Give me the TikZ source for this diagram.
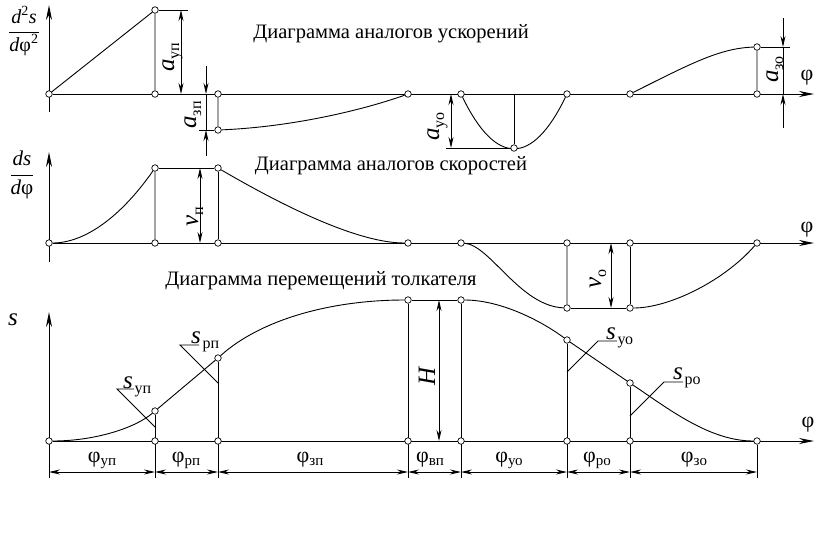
\documentclass[tikz,border=0pt]{standalone}
\usepackage{fontspec}
\setmainfont{Liberation Serif}
\usetikzlibrary{arrows.meta,backgrounds}
\newcommand\sbs[1]{\raisebox{-5pt}{\fontsize{16}{16}\selectfont #1}}
\newcommand\sbf[1]{\raisebox{-3pt}{\fontsize{15}{15}\selectfont #1}}
\newcommand\lett[1]{{\fontsize{25}{25}\selectfont\itshape #1}}
\begin{document}
\begin{tikzpicture}[x=1pt,y=-1pt,
  pt/.style={circle,draw,fill=white,inner sep=0pt,minimum size=6.5pt,line width=0.7pt},
  ln/.style={line width=0.9pt},
  axarr/.style={line width=1pt,-{Stealth[length=15pt,width=6pt]}},
  dim/.style={line width=0.9pt,{Stealth[length=11pt,width=5pt]}-{Stealth[length=11pt,width=5pt]}},
  dimend/.style={line width=0.9pt,-{Stealth[length=11pt,width=5pt]}},
  title/.style={font=\fontsize{20.5}{20.5}\selectfont,inner sep=0pt},
  lab/.style={inner sep=0pt},
  rlab/.style={inner sep=0pt,rotate=90,anchor=base west},
  flab/.style={inner sep=0pt,font=\fontsize{22}{22}\selectfont},
]
\useasboundingbox (0,0) rectangle (819,542);
% ---------- acceleration diagram points
\node[pt] (A0) at (49,94) {};
\node[pt] (A1) at (155,10) {};
\node[pt] (A1b) at (155,94) {};
\node[pt] (A2) at (218,94) {};
\node[pt] (A2b) at (218,130) {};
\node[pt] (A3) at (408,94) {};
\node[pt] (A4) at (461,94) {};
\node[pt] (A45) at (514,148) {};
\node[pt] (A5) at (567,94) {};
\node[pt] (A6) at (630,94) {};
\node[pt] (A7) at (757,47) {};
\node[pt] (A7b) at (757,94) {};
\coordinate (Ay1) at (49,5); \coordinate (Ay0) at (49,112); \coordinate (Ax1) at (814,94);
\coordinate (A45a) at (514,94);
\coordinate (a1e) at (188,10); \coordinate (da1t) at (181,10); \coordinate (da1b) at (181,94);
\coordinate (a2e) at (199,130); \coordinate (da2t) at (206,66); \coordinate (da2m) at (206,94);
\coordinate (da2n) at (206,130); \coordinate (da2b) at (206,156);
\coordinate (a45e) at (446,148); \coordinate (da45t) at (451,94); \coordinate (da45b) at (451,148);
\coordinate (a7e) at (790,47); \coordinate (da7t) at (783,18); \coordinate (da7m) at (783,47);
\coordinate (da7n) at (783,94); \coordinate (da7b) at (783,128);
% ---------- velocity diagram points
\node[pt] (B0) at (49,243) {};
\node[pt] (B1) at (155,168) {};
\node[pt] (B1b) at (155,243) {};
\node[pt] (B2) at (218,168) {};
\node[pt] (B2b) at (218,243) {};
\node[pt] (B3) at (408,243) {};
\node[pt] (B4) at (461,243) {};
\node[pt] (B5) at (567,308) {};
\node[pt] (B5b) at (567,243) {};
\node[pt] (B6) at (630,308) {};
\node[pt] (B6b) at (630,243) {};
\node[pt] (B7) at (757,243) {};
\coordinate (By1) at (49,152); \coordinate (By0) at (49,262); \coordinate (Bx1) at (814,243);
\coordinate (vpt) at (200,168); \coordinate (vpb) at (200,243);
\coordinate (vot) at (611,243); \coordinate (vob) at (611,308);
% ---------- displacement diagram points
\node[pt] (C0) at (49,441) {};
\node[pt] (C1) at (155,411) {};
\node[pt] (C1b) at (155,441) {};
\node[pt] (C2) at (218,358) {};
\node[pt] (C2b) at (218,441) {};
\node[pt] (C3) at (408,300) {};
\node[pt] (C3b) at (408,441) {};
\node[pt] (C4) at (461,300) {};
\node[pt] (C4b) at (461,441) {};
\node[pt] (C5) at (567,340) {};
\node[pt] (C5b) at (567,441) {};
\node[pt] (C6) at (630,383) {};
\node[pt] (C6b) at (630,441) {};
\node[pt] (C7) at (757,441) {};
\coordinate (Cy1) at (49,312); \coordinate (Cx1) at (814,441);
\foreach \i/\x in {0/49,1/155,2/218,3/408,4/461,5/567,6/630,7/757}{
  \coordinate (D\i) at (\x,472); \coordinate (E\i) at (\x,478);}
\coordinate (Ht) at (439,300); \coordinate (Hb) at (439,441);
\coordinate (L1a) at (155,427); \coordinate (L1b) at (117,389); \coordinate (L1c) at (134,389);
\coordinate (L2a) at (218,383); \coordinate (L2b) at (180,345); \coordinate (L2c) at (199,345);
\coordinate (L5a) at (567,372); \coordinate (L5b) at (598,341); \coordinate (L5c) at (617,341);
\coordinate (L6a) at (630,416); \coordinate (L6b) at (664,382); \coordinate (L6c) at (683,382);

\begin{scope}[on background layer]
% acceleration
\draw[axarr] (Ay0) -- (Ay1);
\draw[axarr] (A0) -- (Ax1);
\draw[ln] (A0) -- (A1) -- (A1b);
\draw[ln] (A2) -- (A2b) .. controls (290,127) and (360,111) .. (A3);
\draw[ln] (A4) .. controls (496,166) and (532,166) .. (A5);
\draw[ln] (A45a) -- (A45);
\draw[ln] (A6) .. controls (690,64) and (720,48) .. (A7) -- (A7b);
\draw[ln] (A1) -- (a1e);
\draw[dim] (da1t) -- (da1b);
\draw[ln] (A2b) -- (a2e);
\draw[dimend] (da2t) -- (da2m);
\draw[ln] (da2m) -- (da2n);
\draw[dimend] (da2b) -- (da2n);
\draw[ln] (A45) -- (a45e);
\draw[dim] (da45t) -- (da45b);
\draw[ln] (A7) -- (a7e);
\draw[dimend] (da7t) -- (da7m);
\draw[ln] (da7m) -- (da7n);
\draw[dimend] (da7b) -- (da7n);
% velocity
\draw[axarr] (By0) -- (By1);
\draw[axarr] (B0) -- (Bx1);
\draw[ln] (B0) .. controls (84,243) and (120,218) .. (B1) -- (B1b);
\draw[ln] (B1) -- (B2) -- (B2b);
\draw[ln] (B2) .. controls (290,210) and (360,243) .. (B3);
\draw[ln] (B4) .. controls (490,245) and (520,306) .. (B5) -- (B5b);
\draw[ln] (B5) -- (B6) -- (B6b);
\draw[ln] (B6) .. controls (670,308) and (725,280) .. (B7);
\draw[dim] (vpt) -- (vpb);
\draw[dim] (vot) -- (vob);
% displacement
\draw[axarr] (E0) -- (Cy1);
\draw[axarr] (C0) -- (Cx1);
\draw[ln] (C0) .. controls (95,441) and (135,428) .. (C1) -- (C2) .. controls (260,320) and (330,300) .. (C3);
\draw[ln] (C3) -- (C4);
\draw[ln] (C4) .. controls (500,300) and (540,320) .. (C5) -- (C6) .. controls (670,410) and (710,441) .. (C7);
\foreach \i in {1,...,7}{\draw[ln] (C\i) -- (E\i);}
\draw[dim] (Ht) -- (Hb);
\draw[ln] (L1a) -- (L1b) -- (L1c);
\draw[ln] (L2a) -- (L2b) -- (L2c);
\draw[ln] (L5a) -- (L5b) -- (L5c);
\draw[ln] (L6a) -- (L6b) -- (L6c);
\foreach \i [evaluate=\i as \j using int(\i+1)] in {0,...,6}{\draw[dim] (D\i) -- (D\j);}
\end{scope}

% ---------- texts
\node[title] (T1) at (391,34) {Диаграмма аналогов ускорений};
\node[title] (T2) at (391,166) {Диаграмма аналогов скоростей};
\node[title] (T3) at (321,281) {Диаграмма перемещений толкателя};
\node[lab] (YA) at (24,31) {\fontsize{20}{20}\selectfont$\displaystyle\frac{\mbox{\itshape d\textsuperscript{\upshape 2}s}}{\mbox{\itshape d\upshape φ\textsuperscript{2}}}$};
\node[lab] (YB) at (22,175) {\fontsize{21}{21}\selectfont$\displaystyle\frac{\mbox{\itshape ds}}{\mbox{\itshape d\upshape φ}}$};
\node[lab] (YC) at (13,320) {\lett{s}};
\node[flab] (XA) at (807,78) {φ};
\node[flab] (XB) at (807,230) {φ};
\node[flab] (XC) at (808,425) {φ};
\node[rlab] (la1) at (174,72) {\lett{a}\sbs{уп}};
\node[rlab] (la2) at (196,129) {\lett{a}\sbs{зп}};
\node[rlab] (la45) at (439,141) {\lett{a}\sbs{уо}};
\node[rlab] (la7) at (778,83) {\lett{a}\sbs{зо}};
\node[rlab] (lvp) at (198,227) {\lett{v}\sbs{п}};
\node[rlab] (lvo) at (601,289) {\lett{v}\sbs{о}};
\node[rlab] (lH) at (435,386) {\lett{H}};
\node[lab,anchor=base west] (ls1) at (123,388) {\lett{s}\,\sbs{уп}};
\node[lab,anchor=base west] (ls2) at (191,343) {\lett{s}\,\sbs{рп}};
\node[lab,anchor=base west] (ls5) at (606,339) {\lett{s}\,\sbs{уо}};
\node[lab,anchor=base west] (ls6) at (673,379) {\lett{s}\,\sbs{ро}};
\node[flab] (f1) at (102,460) {φ\sbf{уп}};
\node[flab] (f2) at (186,460) {φ\sbf{рп}};
\node[flab] (f3) at (310,460) {φ\sbf{зп}};
\node[flab] (f4) at (430,460) {φ\sbf{вп}};
\node[flab] (f5) at (509,460) {φ\sbf{уо}};
\node[flab] (f6) at (597,460) {φ\sbf{ро}};
\node[flab] (f7) at (694,460) {φ\sbf{зо}};
\end{tikzpicture}
\end{document}
